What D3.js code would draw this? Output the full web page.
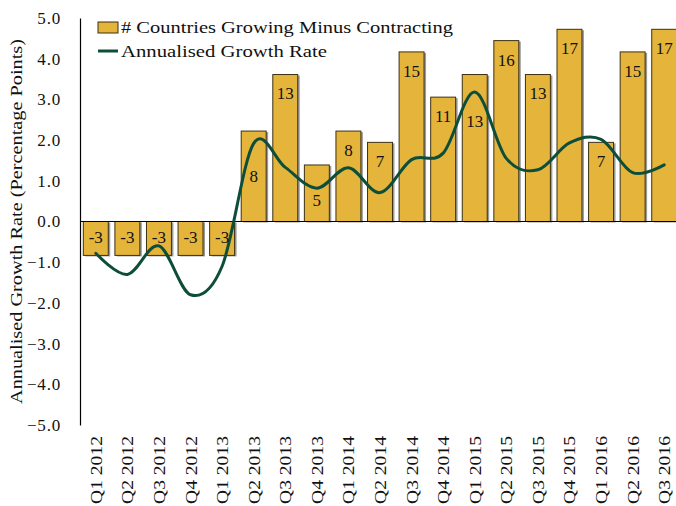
<!DOCTYPE html>
<html>
<head>
<meta charset="utf-8">
<script src="https://cdn.jsdelivr.net/npm/d3@7"></script>
<style>
  body { margin: 0; background: #fff; }
  svg { display: block; font-family: "Liberation Serif", "Times New Roman", serif; }
</style>
</head>
<body>
<div id="chart"></div>
<script>
// data
const quarters = ["Q1 2012", "Q2 2012", "Q3 2012", "Q4 2012", "Q1 2013", "Q2 2013", "Q3 2013",
  "Q4 2013", "Q1 2014", "Q2 2014", "Q3 2014", "Q4 2014", "Q1 2015", "Q2 2015", "Q3 2015",
  "Q4 2015", "Q1 2016", "Q2 2016", "Q3 2016"];
const netCountries = [-3, -3, -3, -3, -3, 8, 13, 5, 8, 7, 15, 11, 13, 16, 13, 17, 7, 15, 17];
const growthRate = [-0.78, -1.3, -0.6, -1.8, -1.1, 1.92, 1.33, 0.82, 1.32, 0.71, 1.52, 1.68,
  3.18, 1.55, 1.27, 1.93, 2.02, 1.2, 1.39];
const yTicks = [5, 4, 3, 2, 1, 0, -1, -2, -3, -4, -5];
const legendLabels = ["# Countries Growing Minus Contracting", "Annualised Growth Rate"];

// some data labels were nudged down in the original to dodge the line
const labelNudge = { "Q2 2013": 26, "Q4 2013": 16, "Q1 2015": 28 };

const width = 676, height = 506;
const barFill = "#E4B43B", barStroke = "#3d3114", lineColor = "#0D4E3B";

const svg = d3.select("#chart").append("svg")
  .attr("width", width)
  .attr("height", height);

const x = d3.scaleBand()
  .domain(quarters)
  .range([80, 680])
  .paddingInner(0.21)
  .paddingOuter(0.105);

const y = d3.scaleLinear().domain([-5, 5]).range([425, 18]);
// bars sit on a hidden secondary axis
const yBar = d3.scaleLinear().domain([-18, 18]).range([425, 18]);

const bars = quarters.map((q, i) => ({ q, v: netCountries[i] }));

// shadow
svg.append("g").selectAll("rect")
  .data(bars)
  .join("rect")
  .attr("x", d => x(d.q) + 2)
  .attr("y", d => Math.min(yBar(d.v), yBar(0)) + 1)
  .attr("width", x.bandwidth())
  .attr("height", d => Math.abs(yBar(d.v) - yBar(0)))
  .attr("fill", "#9a9a9a");

svg.append("g").selectAll("rect")
  .data(bars)
  .join("rect")
  .attr("x", d => x(d.q))
  .attr("y", d => Math.min(yBar(d.v), yBar(0)))
  .attr("width", x.bandwidth())
  .attr("height", d => Math.abs(yBar(d.v) - yBar(0)))
  .attr("fill", barFill)
  .attr("stroke", barStroke)
  .attr("stroke-width", 1);

// zero line
svg.append("line")
  .attr("x1", 80).attr("x2", width)
  .attr("y1", y(0)).attr("y2", y(0))
  .attr("stroke", "#000").attr("stroke-width", 1.2);

// y axis
const yAxis = svg.append("g")
  .attr("transform", "translate(80,0)")
  .call(d3.axisLeft(y).tickValues(yTicks).tickSize(0).tickPadding(19).tickFormat(d3.format(".1f")));
yAxis.select(".domain").attr("stroke", "#000").attr("stroke-width", 1.2);
yAxis.selectAll("text")
  .style("font-size", "17px")
  .style("font-family", "Liberation Serif, serif")
  .style("letter-spacing", "0.8px")
  .attr("fill", "#111");

// x labels
svg.append("g").selectAll("text")
  .data(quarters)
  .join("text")
  .attr("transform", d => `translate(${x(d) + x.bandwidth() / 2 + 6},436) rotate(-90)`)
  .attr("text-anchor", "end")
  .style("font-size", "17px")
  .attr("textLength", 68)
  .attr("lengthAdjust", "spacingAndGlyphs")
  .attr("fill", "#111")
  .text(d => d);

// line
const line = d3.line()
  .x((d, i) => x(quarters[i]) + x.bandwidth() / 2)
  .y(d => y(d))
  .curve(d3.curveCatmullRom.alpha(0));

svg.append("path")
  .datum(growthRate)
  .attr("d", line)
  .attr("fill", "none")
  .attr("stroke", lineColor)
  .attr("stroke-width", 3)
  .attr("stroke-linecap", "round");

// bar value labels
svg.append("g").selectAll("text")
  .data(bars)
  .join("text")
  .attr("x", d => x(d.q) + x.bandwidth() / 2)
  .attr("y", d => {
    const end = yBar(d.v);
    const base = d.v >= 0 ? end + 19 : end - 18;
    return base + (labelNudge[d.q] || 0);
  })
  .attr("dy", "0.35em")
  .attr("text-anchor", "middle")
  .style("font-size", "17px")
  .attr("fill", "#111")
  .text(d => d.v);

// y axis title
svg.append("text")
  .attr("transform", `translate(22,${y(0)}) rotate(-90)`)
  .attr("text-anchor", "middle")
  .style("font-size", "17px")
  .attr("textLength", 365)
  .attr("lengthAdjust", "spacingAndGlyphs")
  .attr("fill", "#111")
  .text("Annualised Growth Rate (Percentage Points)");

// legend
const legend = svg.append("g");
legend.append("rect")
  .attr("x", 98).attr("y", 22).attr("width", 20).attr("height", 11)
  .attr("fill", barFill).attr("stroke", barStroke);
legend.append("text")
  .attr("x", 121).attr("y", 33)
  .style("font-size", "17px")
  .attr("textLength", 332)
  .attr("lengthAdjust", "spacingAndGlyphs")
  .attr("fill", "#111")
  .text(legendLabels[0]);
legend.append("line")
  .attr("x1", 98).attr("x2", 118).attr("y1", 51).attr("y2", 51)
  .attr("stroke", lineColor).attr("stroke-width", 3);
legend.append("text")
  .attr("x", 121).attr("y", 57)
  .style("font-size", "17px")
  .attr("textLength", 206)
  .attr("lengthAdjust", "spacingAndGlyphs")
  .attr("fill", "#111")
  .text(legendLabels[1]);
</script>
</body>
</html>
